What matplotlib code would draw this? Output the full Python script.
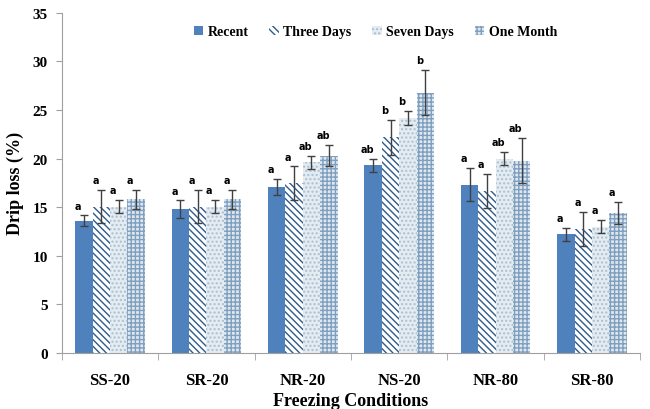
import numpy as np
import matplotlib.pyplot as plt
from matplotlib.ticker import FixedLocator

plt.rcParams['font.family'] = ['Liberation Serif', 'DejaVu Serif']
plt.rcParams['font.weight'] = 'bold'
plt.rcParams['hatch.linewidth'] = 1.0

# data
conditions = ['SS-20', 'SR-20', 'NR-20', 'NS-20', 'NR-80', 'SR-80']
series = ['Recent', 'Three Days', 'Seven Days', 'One Month']

recent = [13.6, 14.8, 17.1, 19.3, 17.3, 12.2]
three_days = [15.05, 15.05, 17.45, 22.2, 16.7, 12.75]
seven_days = [15.05, 15.05, 19.6, 24.2, 20.0, 13.0]
one_month = [15.8, 15.8, 20.3, 26.8, 19.8, 14.4]

err_recent = [0.55, 0.9, 0.85, 0.7, 1.7, 0.7]
err_three = [1.7, 1.7, 1.75, 1.8, 1.75, 1.75]
err_seven = [0.7, 0.7, 0.7, 0.7, 0.7, 0.7]
err_month = [1.0, 1.0, 1.1, 2.3, 2.3, 1.1]

lab_recent = ['a', 'a', 'a', 'ab', 'a', 'a']
lab_three = ['a', 'a', 'a', 'b', 'a', 'a']
lab_seven = ['a', 'a', 'ab', 'b', 'ab', 'a']
lab_month = ['a', 'a', 'ab', 'b', 'ab', 'a']

values = [recent, three_days, seven_days, one_month]
errors = [err_recent, err_three, err_seven, err_month]
letters = [lab_recent, lab_three, lab_seven, lab_month]

styles = [
    dict(color='#4f81bd', edgecolor='#4f81bd', hatch=None),
    dict(color='white', edgecolor='#2f5a8a', hatch='\\\\\\\\\\'),
    dict(color='#e4ecf2', edgecolor='#a9bfd2', hatch='....'),
    dict(color='#dfe8f0', edgecolor='#7f9fbe', hatch='++++'),
]

fig = plt.figure(figsize=(6.5, 4.1), dpi=100)
ax = fig.add_axes([0.095, 0.137, 0.89, 0.829])

x = np.arange(len(conditions))
w = 0.18
for i, (vals, errs, labs, st) in enumerate(zip(values, errors, letters, styles)):
    pos = x + (i - 1.5) * w
    ax.bar(pos, vals, width=w, color=st['color'], edgecolor=st['edgecolor'],
           hatch=st['hatch'], linewidth=0, label=series[i], zorder=2)
    ax.errorbar(pos, vals, yerr=errs, fmt='none', ecolor='#404040',
                elinewidth=1.0, capsize=3, capthick=1.0, zorder=3)
    for p, v, e, t in zip(pos, vals, errs, labs):
        ax.text(p - 0.06, v + e + 0.5, t, ha='center', va='bottom',
                fontsize=7, fontweight='bold', family='DejaVu Sans')

ax.set_xlim(-0.5, 5.5)
ax.set_ylim(0, 35)
ax.set_yticks(range(0, 36, 5))
ax.set_xticks(x)
ax.set_xticklabels(conditions, fontsize=12, fontweight='bold',
                   family='Liberation Serif')
ax.set_yticklabels([str(v) for v in range(0, 36, 5)], fontsize=11,
                   fontweight='bold', family='Liberation Serif')
ax.xaxis.set_minor_locator(FixedLocator(np.arange(-0.5, 6.0, 1.0)))
ax.tick_params(axis='x', which='major', length=0, pad=14)
ax.tick_params(axis='x', which='minor', length=5, color='#a0a0a0')
ax.tick_params(axis='y', length=4, color='#a0a0a0', pad=6)

for s in ['top', 'right']:
    ax.spines[s].set_visible(False)
for s in ['left', 'bottom']:
    ax.spines[s].set_color('#a0a0a0')

ax.set_ylabel('Drip loss (%)', fontsize=13, fontweight='bold', labelpad=6)
ax.set_xlabel('Freezing Conditions', fontsize=13, fontweight='bold', labelpad=3)

leg = ax.legend(loc='upper center', bbox_to_anchor=(0.542, 1.0), ncol=4,
                frameon=False, handlelength=0.7, handleheight=0.7,
                handletextpad=0.3, columnspacing=1.5,
                prop={'weight': 'bold', 'size': 10, 'family': 'Liberation Serif'})

fig.savefig('out.png', dpi=100)
